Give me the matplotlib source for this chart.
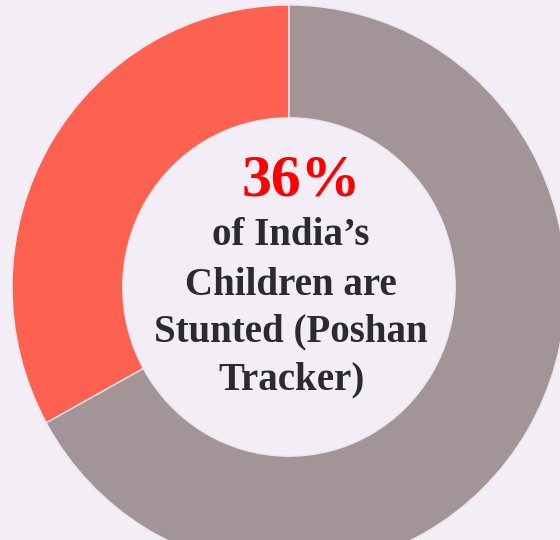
import matplotlib
matplotlib.use("Agg")
from matplotlib import pyplot as plt

labels = ["Stunted", "Not stunted"]
shares = [33, 67]
colors = ["#FF6150", "#A39597"]
headline = "36%"
caption = ["of India\u2019s", "Children are", "Stunted (Poshan", "Tracker)"]

bg = "#F3EEF6"

fig = plt.figure(figsize=(5.6, 5.4), dpi=100, facecolor=bg)
ax = fig.add_axes([0, 0, 1, 1])
ax.set_facecolor(bg)

ax.pie(shares, colors=colors, startangle=90, counterclock=True,
       radius=1.0, wedgeprops=dict(width=0.4, edgecolor="#EDE6EA", linewidth=1))

# the reference is slightly stretched vertically, so no equal aspect
ax.set_aspect("auto")
ax.set_xlim(-289 / 277, 271 / 277)
ax.set_ylim(-253 / 282, 287 / 282)
ax.axis("off")

font = ["Liberation Serif", "DejaVu Serif"]
fig.text(0.538, 1 - 196 / 540, headline, color="#FF0000", fontsize=43,
         fontweight="bold", family=font, ha="center", va="baseline")
baselines = [245, 295, 341, 389]
for line, yb in zip(caption, baselines):
    fig.text(0.52, 1 - yb / 540, line, color="#2B2B2B", fontsize=28,
             fontweight="bold", family=font, ha="center", va="baseline")

fig.savefig("out.png", dpi=100, facecolor=bg)
